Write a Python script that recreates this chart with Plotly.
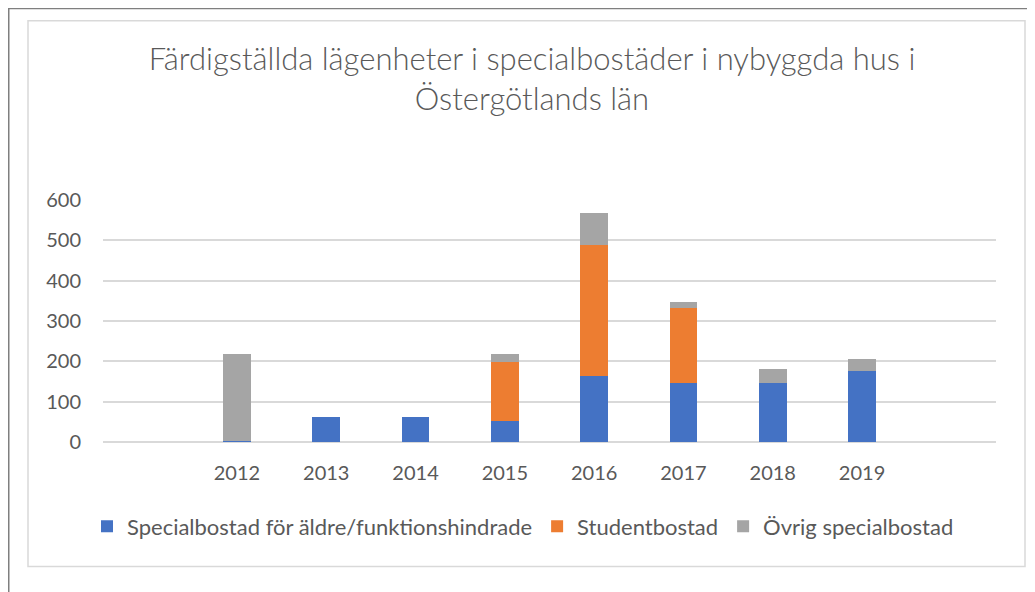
import plotly.graph_objects as go

years = [2012, 2013, 2014, 2015, 2016, 2017, 2018, 2019]
tick_labels = ["2012", "2013", "2014", "2015", "2016", "2017", "2018", "2019"]
aldre = [2, 61, 63, 53, 164, 146, 146, 176]
student = [0, 0, 0, 146, 324, 186, 0, 0]
ovrig = [216, 0, 0, 19, 79, 16, 35, 31]

names = ["Specialbostad för äldre/funktionshindrade", "Studentbostad", "Övrig specialbostad"]
colors = ["#4472C4", "#ED7D31", "#A5A5A5"]
title_text = "Färdigställda lägenheter i specialbostäder i nybyggda hus i<br>Östergötlands län"

FONT = "Lato"
TXT = "#595959"

fig = go.Figure()
for name, vals, col in zip(names, [aldre, student, ovrig], colors):
    fig.add_trace(go.Bar(x=years, y=vals, name=name, marker_color=col,
                         marker_line_width=0, width=0.31))

# page body has an 8px margin, so figure coordinates are screen - 8
W, H = 1027, 584
L, R, T, B = 95, 988, 192, 433.7

def px(x):
    return (x - L) / (R - L)

def py(y):
    return (B - y) / (B - T)

shapes = [
    dict(type="line", xref="paper", yref="paper", x0=px(0), x1=px(1030), y0=py(0.5), y1=py(0.5),
         line=dict(color="#7F7F7F", width=2)),
    dict(type="line", xref="paper", yref="paper", x0=px(0.5), x1=px(0.5), y0=py(0), y1=py(600),
         line=dict(color="#7F7F7F", width=2)),
    dict(type="rect", xref="paper", yref="paper", x0=px(20), x1=px(1017), y0=py(558), y1=py(13),
         line=dict(color="#D9D9D9", width=1.5), fillcolor="rgba(0,0,0,0)"),
]

fig.update_layout(
    width=W, height=H,
    margin=dict(l=L, r=W - R, t=T, b=H - B, pad=0),
    barmode="stack",
    paper_bgcolor="white", plot_bgcolor="white",
    font=dict(family=FONT, color=TXT, size=20),
    title=dict(text=title_text, x=524 / W, xanchor="center", xref="container",
               y=1 - 62 / H, yanchor="top", yref="container",
               font=dict(family=FONT, size=31, color=TXT, weight=300)),
    xaxis=dict(range=[2010.5, 2020.5], tickvals=years, ticktext=tick_labels,
               showgrid=False, showline=False, zeroline=False, ticks="",
               tickfont=dict(size=20, color=TXT), ticklabelstandoff=17),
    yaxis=dict(range=[0, 600], dtick=100, showgrid=True, gridcolor="#D9D9D9", gridwidth=1.5,
               zeroline=True, zerolinecolor="#D9D9D9", zerolinewidth=1.5, showline=False,
               ticks="", tickfont=dict(size=20, color=TXT), ticklabelstandoff=21),
    legend=dict(orientation="h", x=px(79), xanchor="left", y=py(518), yanchor="middle",
                font=dict(size=22, color=TXT), traceorder="normal", itemclick=False),
    shapes=shapes,
    showlegend=True,
)

fig.write_html("out.html")
